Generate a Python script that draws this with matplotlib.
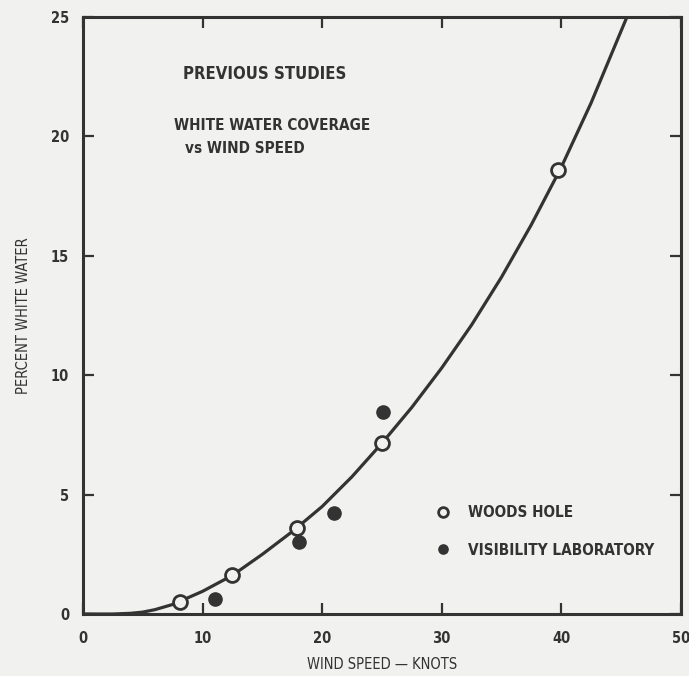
import numpy as np
import matplotlib.pyplot as plt

# curve
curve_x = [0, 2.5, 4, 5, 6, 7.5, 10, 12.5, 15, 17.5, 20, 22.5, 25, 27.5, 30, 32.5, 35, 37.5, 40, 42.5, 45.5]
curve_y = [0, 0.0, 0.03, 0.08, 0.18, 0.4, 0.95, 1.62, 2.5, 3.45, 4.5, 5.75, 7.15, 8.65, 10.3, 12.1, 14.1, 16.3, 18.7, 21.4, 25.0]

woods_x = [8.1, 12.5, 17.9, 25.0, 39.7]
woods_y = [0.52, 1.63, 3.6, 7.15, 18.6]

vis_x = [11.0, 18.1, 21.0, 25.1]
vis_y = [0.61, 3.03, 4.22, 8.47]

xticks = [0, 10, 20, 30, 40, 50]
yticks = [0, 5, 10, 15, 20, 25]

bg = '#f1f1ef'
ink = '#333333'
plt.rcParams['font.family'] = ['DejaVu Sans']
plt.rcParams['font.stretch'] = 'condensed'

fig = plt.figure(figsize=(6.89, 6.76), dpi=100, facecolor=bg)
ax = fig.add_axes([0.1205, 0.0917, 0.8675, 0.8832])
ax.set_facecolor(bg)

ax.plot(curve_x, curve_y, color=ink, lw=2.3, solid_capstyle='butt', zorder=2)
ax.plot(woods_x, woods_y, 'o', ms=10, mfc=bg, mec=ink, mew=2.0, ls='none', label='WOODS HOLE', zorder=3)
ax.plot(vis_x, vis_y, 'o', ms=9.5, mfc=ink, mec=ink, ls='none', label='VISIBILITY LABORATORY', zorder=3)

ax.set_xlim(0, 50)
ax.set_ylim(0, 25)
ax.set_xticks(xticks)
ax.set_yticks(yticks)
ax.tick_params(direction='in', length=8, width=1.6, color=ink, top=True, right=True,
               labelsize=10.5, labelcolor=ink)
ax.tick_params(axis='x', pad=12)
ax.tick_params(axis='y', pad=10)
for lab in ax.get_xticklabels() + ax.get_yticklabels():
    lab.set_fontweight('bold')
for s in ax.spines.values():
    s.set_linewidth(2.2)
    s.set_color(ink)

ax.set_xlabel('WIND SPEED \u2014 KNOTS', fontsize=10.5, color=ink, labelpad=8)
ax.set_ylabel('PERCENT WHITE WATER', fontsize=10.5, color=ink, labelpad=14)

ax.text(0.304, 0.904, 'PREVIOUS STUDIES', transform=ax.transAxes, ha='center', va='center',
        fontsize=12, fontweight='bold', color=ink)
ax.text(0.317, 0.818, 'WHITE WATER COVERAGE', transform=ax.transAxes, ha='center', va='center',
        fontsize=11, fontweight='bold', color=ink)
ax.text(0.27, 0.78, 'vs WIND SPEED', transform=ax.transAxes, ha='center', va='center',
        fontsize=11, fontweight='bold', color=ink)

leg = ax.legend(loc='upper left', bbox_to_anchor=(0.567, 0.205), frameon=False, markerscale=0.7,
                handlelength=1.0, handletextpad=1.1, labelspacing=1.45,
                prop={'weight': 'bold', 'size': 11, 'stretch': 'condensed'})
for t in leg.get_texts():
    t.set_color(ink)

fig.savefig('out.png', dpi=100, facecolor=bg)
